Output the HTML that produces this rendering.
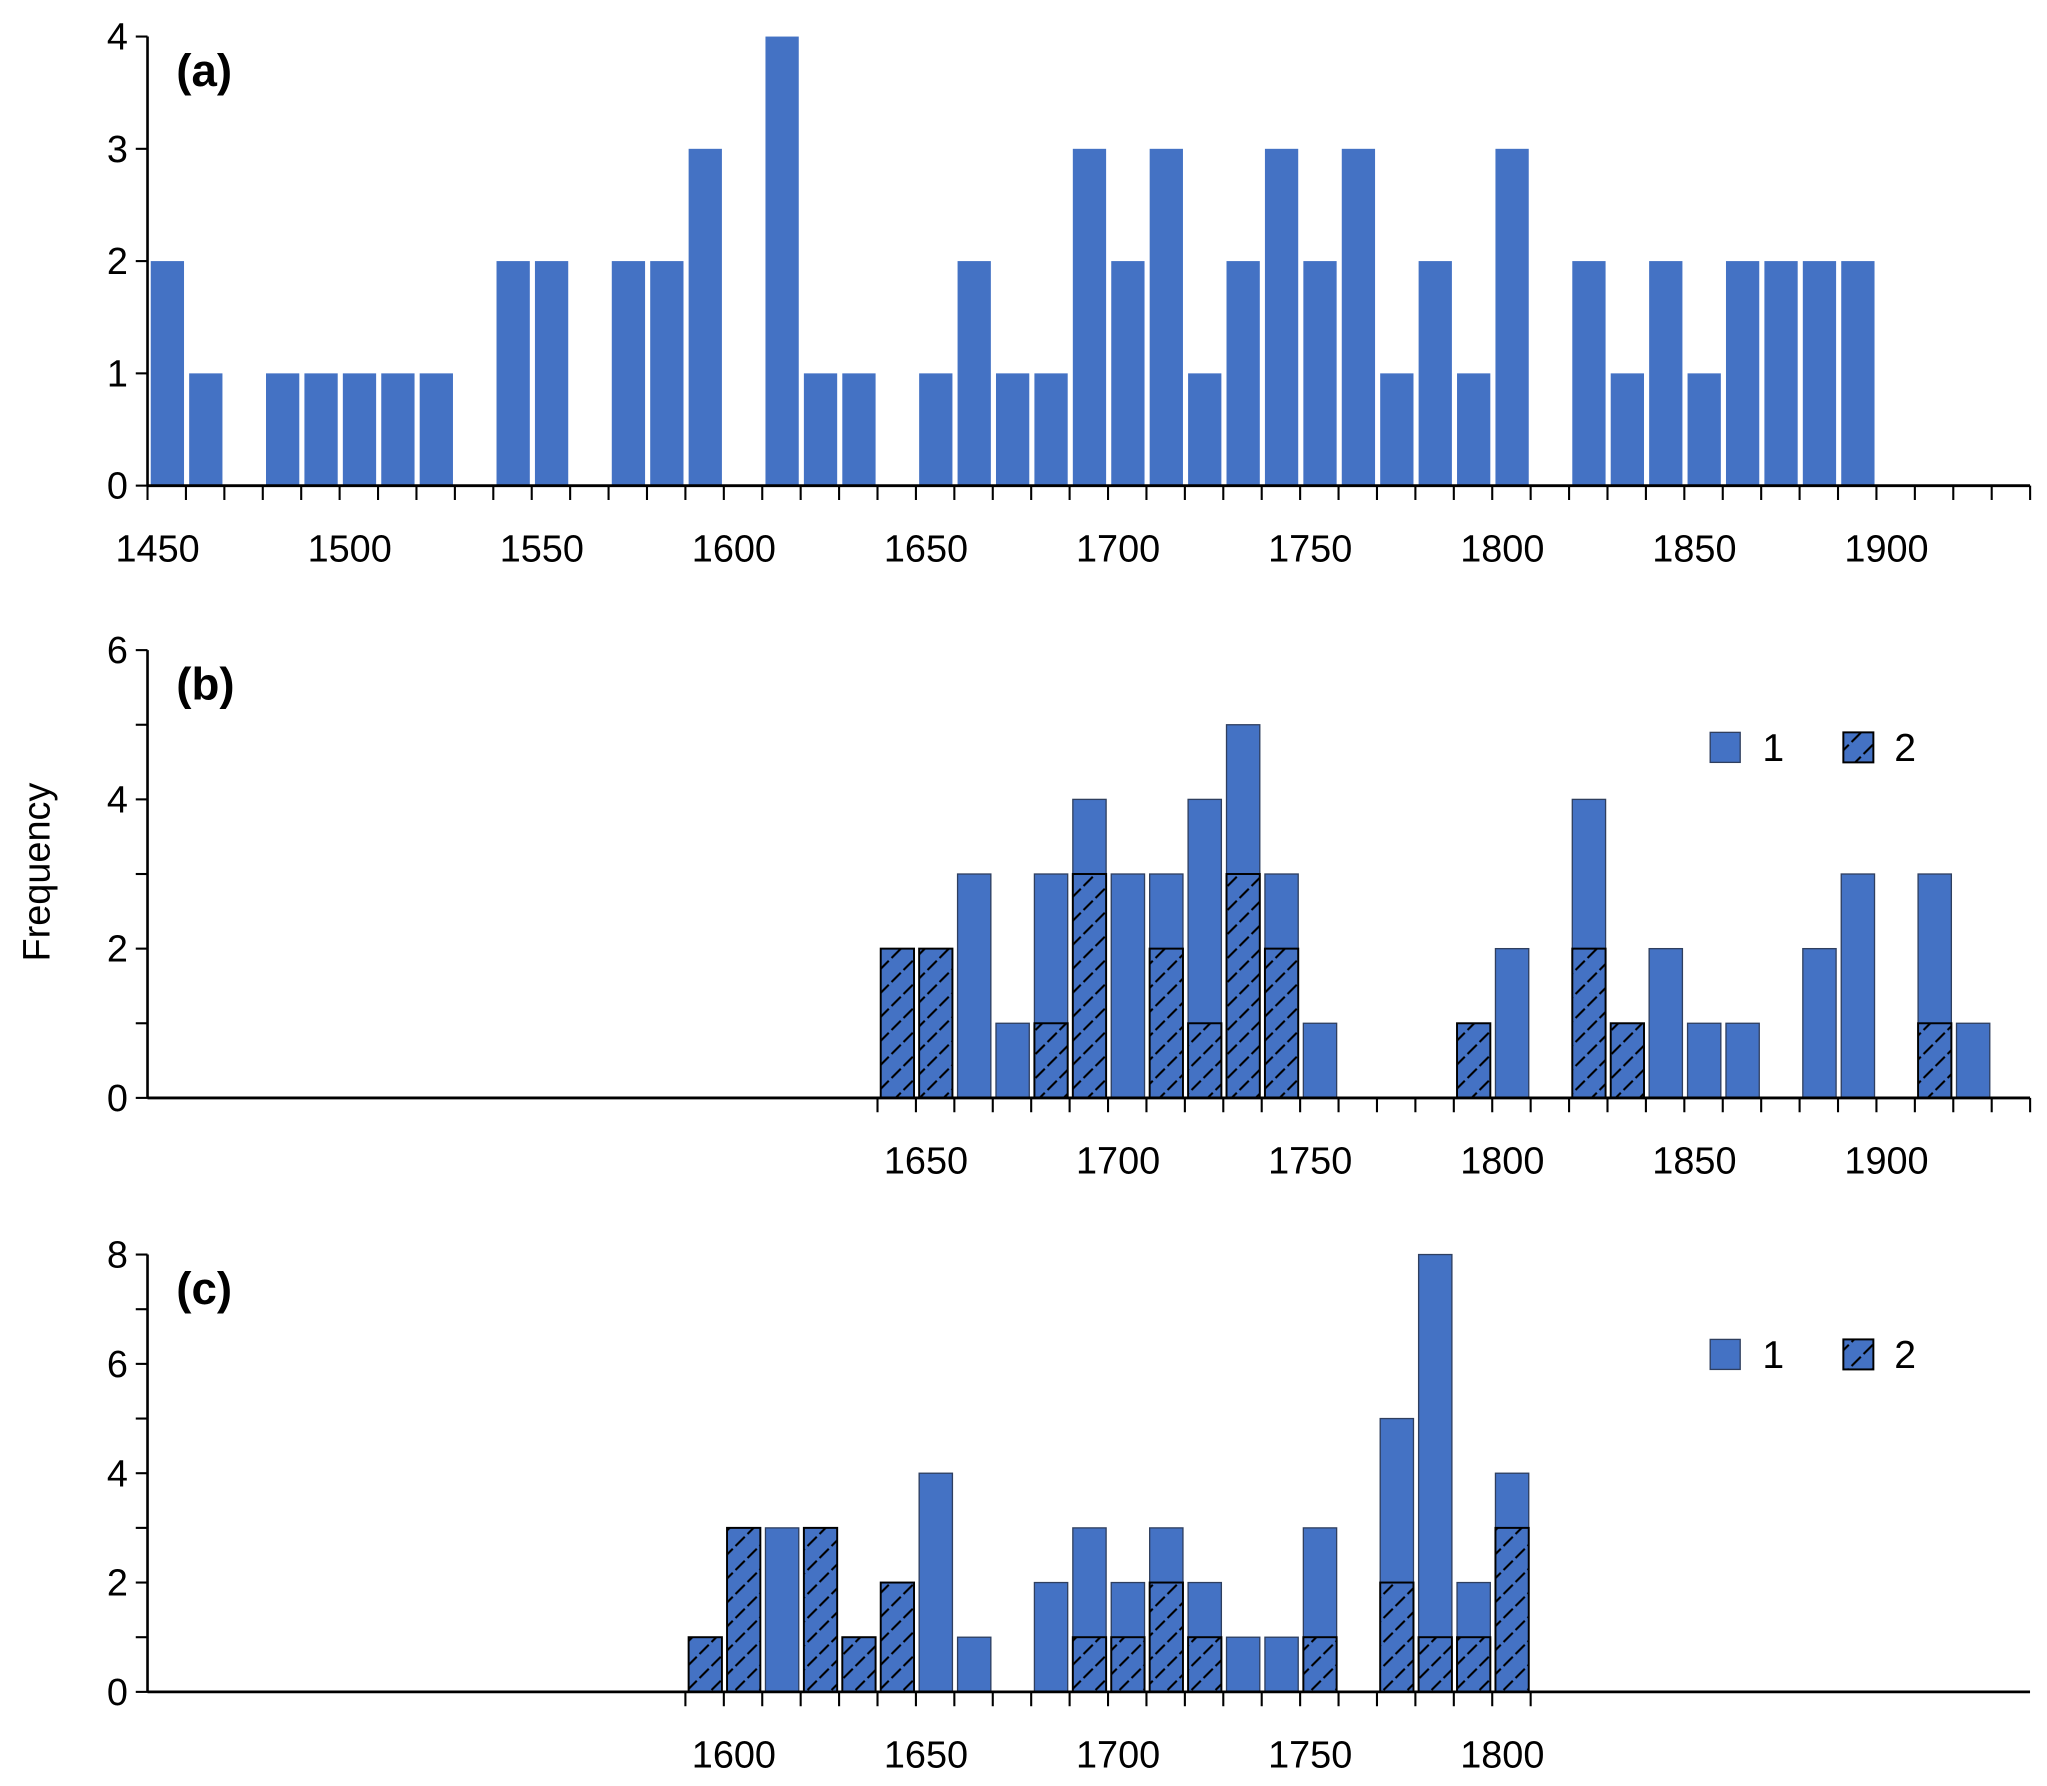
<!DOCTYPE html>
<html><head><meta charset="utf-8"><style>
html,body{margin:0;padding:0;background:#fff;}
svg{display:block;font-family:"Liberation Sans",sans-serif;}
</style></head><body>
<svg id="chart" width="2047" height="1786" viewBox="0 0 1568 1368.1" preserveAspectRatio="none" xmlns="http://www.w3.org/2000/svg">
<defs>
<pattern id="hatch" patternUnits="userSpaceOnUse" width="13" height="13" patternTransform="rotate(45)">
<rect width="13" height="13" fill="#4472C4"/>
<line x1="0" y1="0" x2="0" y2="13" stroke="#000" stroke-width="3.2" stroke-dasharray="10 3"/>
</pattern>
</defs>
<g id="root"></g>
</svg>
<script>
// Panel (a)
const catsA = [1450,1460,1470,1480,1490,1500,1510,1520,1530,1540,1550,1560,1570,1580,1590,1600,1610,1620,1630,1640,1650,1660,1670,1680,1690,1700,1710,1720,1730,1740,1750,1760,1770,1780,1790,1800,1810,1820,1830,1840,1850,1860,1870,1880,1890];
const valsA = [2,1,0,1,1,1,1,1,0,2,2,0,2,2,3,0,4,1,1,0,1,2,1,1,3,2,3,1,2,3,2,3,1,2,1,3,0,2,1,2,1,2,2,2,2];
const xTicksA = [1450,1500,1550,1600,1650,1700,1750,1800,1850,1900];
const yTicksA = [0,1,2,3,4];
// Panel (b)
const catsB = [1640,1650,1660,1670,1680,1690,1700,1710,1720,1730,1740,1750,1760,1770,1780,1790,1800,1810,1820,1830,1840,1850,1860,1870,1880,1890,1900,1910,1920];
const totalB = [2,2,3,1,3,4,3,3,4,5,3,1,0,0,0,1,2,0,4,1,2,1,1,0,2,3,0,3,1];
const type2B = [2,2,0,0,1,3,0,2,1,3,2,0,0,0,0,1,0,0,2,1,0,0,0,0,0,0,0,1,0];
const xTicksB = [1650,1700,1750,1800,1850,1900];
const yTicksB = [0,2,4,6];
// Panel (c)
const catsC = [1590,1600,1610,1620,1630,1640,1650,1660,1670,1680,1690,1700,1710,1720,1730,1740,1750,1760,1770,1780,1790,1800];
const totalC = [1,3,3,3,1,2,4,1,0,2,3,2,3,2,1,1,3,0,5,8,2,4];
const type2C = [1,3,0,3,1,2,0,0,0,0,1,1,2,1,0,0,1,0,2,1,1,3];
const xTicksC = [1600,1650,1700,1750,1800];
const yTicksC = [0,2,4,6,8];

const NS="http://www.w3.org/2000/svg";
const root=document.getElementById('root');
const X0=113, CW=29.43, X1=1555, BW=25.5;
function xc(year){return X0+((year-1450)/10)*CW;}
function mk(tag,attrs,text){const e=document.createElementNS(NS,tag);for(const k in attrs)e.setAttribute(k,attrs[k]);if(text!==undefined)e.textContent=text;root.appendChild(e);return e;}

function panel(cfg){
  const ys=v=>cfg.y0-(v/cfg.ymax)*(cfg.y0-cfg.ytop);
  cfg.cats.forEach((c,i)=>{
    const tot=cfg.total[i]; const h2=cfg.type2?cfg.type2[i]:0;
    const x=xc(c)+(CW-BW)/2+0.5;
    if(tot-h2>0){
      const r=mk('rect',{x:x,y:ys(tot),width:BW,height:ys(h2)-ys(tot),fill:'#4472C4',stroke:cfg.type2?'#2f3f5f':'none','stroke-width':cfg.type2?1:0});
      
      
    }
    if(h2>0){
      const r=mk('rect',{x:x,y:ys(h2),width:BW,height:ys(0)-ys(h2),fill:'url(#hatch)',stroke:'#000','stroke-width':1.5});
      
      
    }
  });
  const ya=mk('line',{x1:X0,y1:cfg.ytop,x2:X0,y2:cfg.y0,stroke:'#000','stroke-width':2});
  
  
  for(let v=0;v<=cfg.ymax;v++){
    mk('line',{x1:X0-9,y1:ys(v),x2:X0,y2:ys(v),stroke:'#000','stroke-width':1.6});
  }
  cfg.yt.forEach(v=>{
    const t=mk('text',{x:98,y:ys(v)+10,'text-anchor':'end','font-size':29},String(v));
    
    
  });
  const xa=mk('line',{x1:X0,y1:cfg.y0,x2:X1,y2:cfg.y0,stroke:'#000','stroke-width':2.2});
  
  
  for(let k=cfg.tickFrom;k<=cfg.tickTo;k++){
    const x=X0+k*CW;
    mk('line',{x1:x,y1:cfg.y0,x2:x,y2:cfg.y0+11,stroke:'#000','stroke-width':1.6});
  }
  cfg.xt.forEach(v=>{
    const t=mk('text',{x:xc(v)+CW/2-7,y:cfg.y0+58,'text-anchor':'middle','font-size':29},String(v));
    
    
  });
  const pl=mk('text',{x:135,y:cfg.ytop+38,'font-size':35,'font-weight':'bold'},'('+cfg.id+')');
  
  
  if(cfg.legendY){
    const ly=cfg.legendY;
    const s1=mk('rect',{x:1310,y:ly-11,width:23,height:23,fill:'#4472C4',stroke:'#2f3f5f','stroke-width':1});
    
    
    const t1=mk('text',{x:1350,y:ly+11,'font-size':30},'1');
    
    
    const s2=mk('rect',{x:1412,y:ly-11,width:23,height:23,fill:'url(#hatch)',stroke:'#000','stroke-width':1.5});
    
    
    const t2=mk('text',{x:1451,y:ly+11,'font-size':30},'2');
    
    
  }
}
panel({id:'a',cats:catsA,total:valsA,type2:null,ytop:28,y0:372,ymax:4,yt:yTicksA,xt:xTicksA,tickFrom:0,tickTo:49});
panel({id:'b',cats:catsB,total:totalB,type2:type2B,ytop:498,y0:841,ymax:6,yt:yTicksB,xt:xTicksB,tickFrom:19,tickTo:49,legendY:572});
panel({id:'c',cats:catsC,total:totalC,type2:type2C,ytop:961,y0:1296,ymax:8,yt:yTicksC,xt:xTicksC,tickFrom:14,tickTo:36,legendY:1037});
const yl=mk('text',{x:0,y:0,'font-size':29,'text-anchor':'middle',transform:'translate(38,668) rotate(-90)'},'Frequency');


</script>
</body></html>
